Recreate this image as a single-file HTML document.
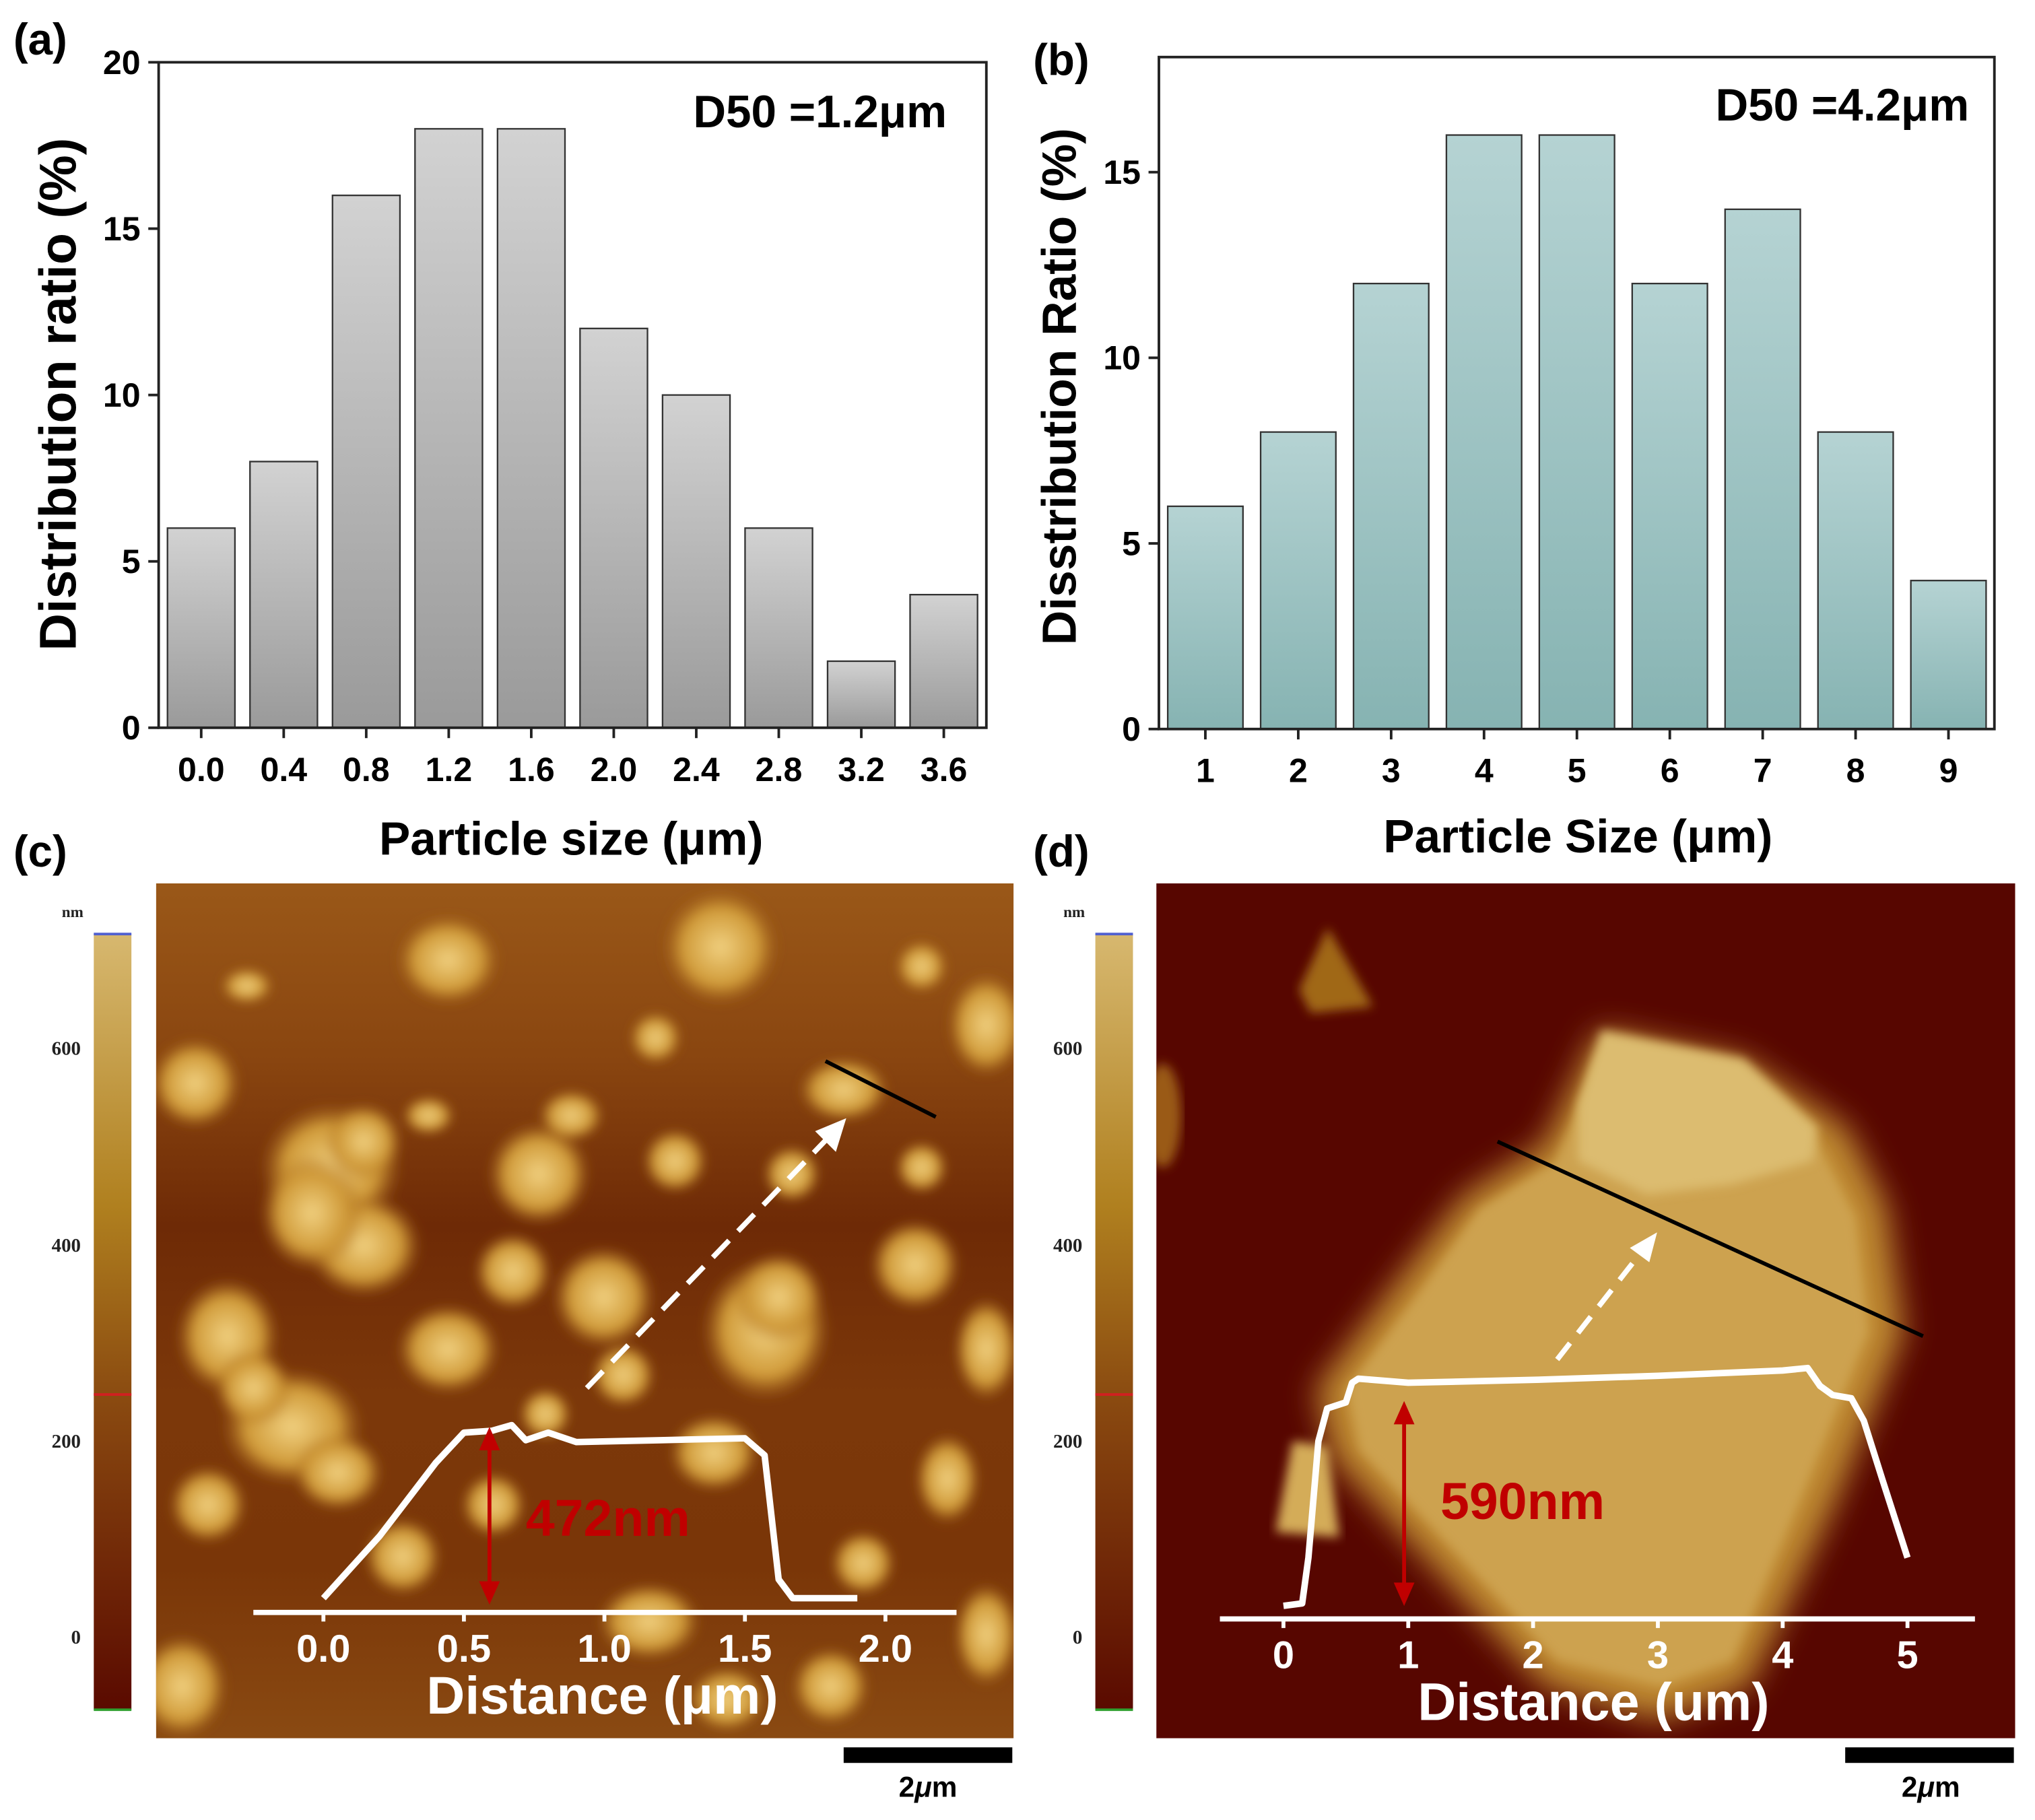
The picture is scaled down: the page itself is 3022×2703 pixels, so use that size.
<!DOCTYPE html>
<html><head><meta charset="utf-8"><style>
html,body{margin:0;padding:0;background:#fff}
svg{display:block;font-family:"Liberation Sans",Arial,sans-serif;font-weight:bold}
</style></head><body>
<svg id="fig" width="3022" height="2703" viewBox="0 0 1568 1403">
<defs>
<linearGradient id="gGray" x1="0" y1="0" x2="0" y2="1"><stop offset="0" stop-color="#d2d2d2"/><stop offset="1" stop-color="#9a9a9a"/></linearGradient>
<linearGradient id="gTeal" x1="0" y1="0" x2="0" y2="1"><stop offset="0" stop-color="#b5d3d3"/><stop offset="1" stop-color="#86b3b2"/></linearGradient>
<linearGradient id="gBar" x1="0" y1="0" x2="0" y2="1"><stop offset="0" stop-color="#d7b86f"/><stop offset="0.35" stop-color="#b0801f"/><stop offset="0.6" stop-color="#8a4a10"/><stop offset="1" stop-color="#5a0a00"/></linearGradient>
<radialGradient id="blob"><stop offset="0" stop-color="#f0d080"/><stop offset="0.65" stop-color="#d09a38"/><stop offset="1" stop-color="#a8681c" stop-opacity="0"/></radialGradient>
<linearGradient id="gBgC" x1="0" y1="0" x2="0" y2="1"><stop offset="0" stop-color="#9a5818"/><stop offset="0.2" stop-color="#8a4610"/><stop offset="0.4" stop-color="#6e2a06"/><stop offset="0.6" stop-color="#7c380a"/><stop offset="0.8" stop-color="#7a3608"/><stop offset="1" stop-color="#8a4a12"/></linearGradient>
<filter id="blur4"><feGaussianBlur stdDeviation="4"/></filter>
<filter id="blur8"><feGaussianBlur stdDeviation="12"/></filter>
<clipPath id="clipC"><rect x="120" y="681" width="661" height="659"/></clipPath>
<clipPath id="clipD"><rect x="891" y="681" width="662" height="659"/></clipPath>
</defs>
<g id="pa"></g>
<g id="pb"></g>

<g>
<text x="10" y="668" font-size="34">(c)</text>
<g clip-path="url(#clipC)">
<rect x="120" y="681" width="661" height="659" fill="url(#gBgC)"/>
<g id="blobsC" filter="url(#blur4)"></g>
</g>
<rect x="72" y="720" width="29" height="598" fill="url(#gBar)"/>
<line x1="72" y1="720" x2="101" y2="720" stroke="#5060d0" stroke-width="2"/>
<line x1="72" y1="1075" x2="101" y2="1075" stroke="#d02020" stroke-width="2"/>
<line x1="72" y1="1318" x2="101" y2="1318" stroke="#30a030" stroke-width="2"/>
<g font-family="'Liberation Serif',serif" font-size="15" fill="#222" text-anchor="end">
<text x="64" y="707" font-size="12">nm</text>
<text x="62" y="813">600</text><text x="62" y="965">400</text><text x="62" y="1116">200</text><text x="62" y="1267">0</text></g>
<line x1="636" y1="818" x2="721" y2="861" stroke="#000" stroke-width="3"/>
<line x1="452" y1="1070" x2="640" y2="875" stroke="#fff" stroke-width="4" stroke-dasharray="18,10"/>
<polygon points="652,862 628,872 644,888" fill="#fff"/>
<g id="profC"></g>
<rect x="650" y="1347" width="130" height="12" fill="#000"/>
<text x="715" y="1385" font-size="22" text-anchor="middle">2<tspan font-style="italic">μ</tspan>m</text>
</g>

<g>
<text x="796" y="668" font-size="34">(d)</text>
<g clip-path="url(#clipD)">
<rect x="891" y="681" width="662" height="659" fill="#570600"/>
<polygon points="1023,715 1058,776 1010,781 1001,763" fill="#a06818" filter="url(#blur4)"/>
<ellipse cx="896" cy="860" rx="14" ry="40" fill="#9a5a14" filter="url(#blur4)"/>
<polygon points="1234,794 1344,816 1423,869 1454,930 1467,1027 1414,1159 1348,1300 1278,1326 1190,1300 1027,1124 1014,1071 1080,983 1128,921 1190,882 1225,807" fill="#c08a30" filter="url(#blur8)"/>
<polygon points="1240,808 1335,828 1400,880 1430,938 1440,1027 1390,1150 1335,1280 1280,1300 1200,1280 1048,1118 1038,1071 1095,995 1140,932 1198,896 1232,818" fill="#cda250" filter="url(#blur4)"/>
<polygon points="1234,794 1344,816 1401,869 1397,895 1335,913 1269,921 1216,895 1216,851" fill="#dcbc70" filter="url(#blur4)"/>
<polygon points="996,1111 1023,1115 1032,1185 983,1181" fill="#d4ac58" filter="url(#blur4)"/>
</g>
<rect x="844" y="720" width="29" height="598" fill="url(#gBar)"/>
<line x1="844" y1="720" x2="873" y2="720" stroke="#5060d0" stroke-width="2"/>
<line x1="844" y1="1075" x2="873" y2="1075" stroke="#d02020" stroke-width="2"/>
<line x1="844" y1="1318" x2="873" y2="1318" stroke="#30a030" stroke-width="2"/>
<g font-family="'Liberation Serif',serif" font-size="15" fill="#222" text-anchor="end">
<text x="836" y="707" font-size="12">nm</text>
<text x="834" y="813">600</text><text x="834" y="965">400</text><text x="834" y="1116">200</text><text x="834" y="1267">0</text></g>
<line x1="1154" y1="880" x2="1482" y2="1030" stroke="#000" stroke-width="3"/>
<line x1="1200" y1="1048" x2="1265" y2="965" stroke="#fff" stroke-width="4" stroke-dasharray="16,10"/>
<polygon points="1277,950 1256,962 1271,973" fill="#fff"/>
<g id="profD"></g>
<rect x="1422" y="1347" width="130" height="12" fill="#000"/>
<text x="1488" y="1385" font-size="22" text-anchor="middle">2<tspan font-style="italic">μ</tspan>m</text>
</g>
</svg>
<script>
const NS='http://www.w3.org/2000/svg';
// ---- Panel a data
const catsA=['0.0','0.4','0.8','1.2','1.6','2.0','2.4','2.8','3.2','3.6'];
const valsA=[6,8,16,18,18,12,10,6,2,4];
const yTicksA=[0,5,10,15,20];
// ---- Panel b data
const catsB=['1','2','3','4','5','6','7','8','9'];
const valsB=[6,8,12,16,16,12,14,8,4];
const yTicksB=[0,5,10,15];
// ---- Profile c (distance um, height nm)
const profCx=[0,0.2,0.4,0.5,0.6,0.67,0.72,0.8,0.9,1.2,1.5,1.57,1.62,1.67,1.9];
const profCy=[0,165,360,440,445,460,420,440,415,420,425,380,50,0,0];
const ticksC=['0.0','0.5','1.0','1.5','2.0'];
// ---- Profile d
const profDx=[0,0.15,0.2,0.28,0.35,0.5,0.55,0.6,1,2,3,4,4.2,4.3,4.4,4.55,4.65,4.8,5];
const profDy=[32,38,150,435,515,530,578,588,578,585,595,608,614,570,548,540,485,340,150];
const ticksD=['0','1','2','3','4','5'];

function el(tag,attrs,parent){const e=document.createElementNS(NS,tag);for(const k in attrs)e.setAttribute(k,attrs[k]);parent.appendChild(e);return e;}

function barChart(g,o){
  const y=v=>o.y0-(v/o.ymax)*(o.y0-o.top);
  const x=i=>o.left+o.pad+o.step*(i+0.5);
  o.vals.forEach((v,i)=>{
    const r=el('rect',{x:x(i)-o.bw/2,y:y(v),width:o.bw,height:o.y0-y(v),fill:o.fill,stroke:'#333','stroke-width':1.2},g);
    
    
    el('line',{x1:x(i),x2:x(i),y1:o.y0,y2:o.y0+8,stroke:'#222','stroke-width':2},g);
    const t=el('text',{x:x(i),y:o.y0+41,'font-size':26,'text-anchor':'middle'},g);t.textContent=o.cats[i];
    
    
  });
  o.ticks.forEach(v=>{
    el('line',{x1:o.left-8,x2:o.left,y1:y(v),y2:y(v),stroke:'#222','stroke-width':2},g);
    const t=el('text',{x:o.left-14,y:y(v)+9,'font-size':26,'text-anchor':'end'},g);t.textContent=v;
    
    
  });
  const ax=el('rect',{x:o.left,y:o.top,width:o.right-o.left,height:o.y0-o.top,fill:'none',stroke:'#222','stroke-width':2},g);
  
  
}
const pa=document.getElementById('pa');
barChart(pa,{cats:catsA,vals:valsA,ticks:yTicksA,ymax:20,left:122,right:760,top:48,y0:561,pad:1,step:63.6,bw:52,fill:'url(#gGray)'});
const pb=document.getElementById('pb');
barChart(pb,{cats:catsB,vals:valsB,ticks:yTicksB,ymax:18.1,left:893,right:1537,top:44,y0:562,pad:0,step:71.6,bw:58,fill:'url(#gTeal)'});
function txt(p,x,y,s,str,extra){const t=el('text',Object.assign({x:x,y:y,'font-size':s},extra||{}),p);t.textContent=str;return t;}
let t;
t=txt(pa,10,42,34,'(a)');
t=txt(pa,534,98,35,'D50 =1.2μm');
t=txt(pa,440,659,36,'Particle size (μm)',{'text-anchor':'middle'});
t=txt(pa,0,0,40,'Distribution ratio (%)',{'text-anchor':'middle',transform:'translate(58,304) rotate(-90)'});
t=txt(pb,796,58,34,'(b)');
t=txt(pb,1322,93,35,'D50 =4.2μm');
t=txt(pb,1216,657,36,'Particle Size (μm)',{'text-anchor':'middle'});
t=txt(pb,0,0,37,'Disstribution Ratio (%)',{'text-anchor':'middle',transform:'translate(829,298) rotate(-90)'});

// decorative blobs (texture) for panel c
const blobs=[[345,740,40,35],[555,730,45,45],[710,745,20,20],[190,760,20,14],[150,835,35,35],[255,900,55,50],[415,905,40,40],[280,960,45,40],[520,895,25,25],[610,905,22,22],[395,980,30,30],[465,1000,40,40],[590,1025,50,55],[705,975,35,35],[175,1030,40,45],[225,1100,55,45],[345,1040,40,35],[480,1060,25,25],[550,1120,35,30],[760,790,30,40],[160,1160,30,30],[730,1140,25,35],[665,1205,25,25],[500,1250,40,30],[310,1200,30,30],[140,1300,35,40],[440,860,25,20],[505,800,20,20],[650,840,35,25],[760,1040,25,40],[240,935,40,45],[280,880,30,30],[195,1070,30,30],[260,1135,35,30],[380,1160,25,25],[600,1000,35,35],[420,1090,20,20],[640,1300,30,30],[560,1310,30,25],[760,1260,25,40],[330,860,20,15],[710,900,20,20]];
const bc=document.getElementById('blobsC');
blobs.forEach(b=>{el('ellipse',{cx:b[0],cy:b[1],rx:b[2],ry:b[3],fill:'url(#blob)'},bc);});

function profile(gid,o){
  const g=document.getElementById(gid);
  const X=v=>o.x0+v*o.sx, Y=h=>o.base-h*o.sy;
  el('line',{x1:o.ax1,x2:o.ax2,y1:o.axy,y2:o.axy,stroke:'#fff','stroke-width':4},g);
  o.ticks.forEach((s,i)=>{
    const v=i*o.tstep;
    el('line',{x1:X(v),x2:X(v),y1:o.axy,y2:o.axy+7,stroke:'#fff','stroke-width':3},g);
    const tt=el('text',{x:X(v),y:o.axy+38,'font-size':30,'text-anchor':'middle',fill:'#fff'},g);tt.textContent=s;
    
    
  });
  const p=el('polyline',{points:o.xs.map((v,i)=>X(v)+','+Y(o.ys[i])).join(' '),fill:'none',stroke:'#fff','stroke-width':5,'stroke-linejoin':'round'},g);
  
  
  const tt=el('text',{x:o.tx,y:o.axy+78,'font-size':41,'text-anchor':'middle',fill:'#fff'},g);tt.textContent=o.title;
  
  
  el('line',{x1:o.arx,x2:o.arx,y1:o.ary1+14,y2:o.ary2-14,stroke:'#c00000','stroke-width':3},g);
  el('polygon',{points:`${o.arx-8},${o.ary1+18} ${o.arx+8},${o.ary1+18} ${o.arx},${o.ary1}`,fill:'#c00000'},g);
  el('polygon',{points:`${o.arx-8},${o.ary2-18} ${o.arx+8},${o.ary2-18} ${o.arx},${o.ary2}`,fill:'#c00000'},g);
  const lt=el('text',{x:o.arx+28,y:o.ly,'font-size':40,fill:'#c00000'},g);lt.textContent=o.label;
  
  
}
profile('profC',{xs:profCx,ys:profCy,x0:249,sx:216.6,base:1232,sy:0.29,ax1:195,ax2:737,axy:1243,ticks:ticksC,tstep:0.5,title:'Distance (μm)',tx:464,arx:377,ary1:1100,ary2:1237,label:'472nm',ly:1184});
profile('profD',{xs:profDx,ys:profDy,x0:989,sx:96.2,base:1248,sy:0.315,ax1:940,ax2:1522,axy:1248,ticks:ticksD,tstep:1,title:'Distance (um)',tx:1228,arx:1082,ary1:1080,ary2:1238,label:'590nm',ly:1171});
</script>
</body></html>
